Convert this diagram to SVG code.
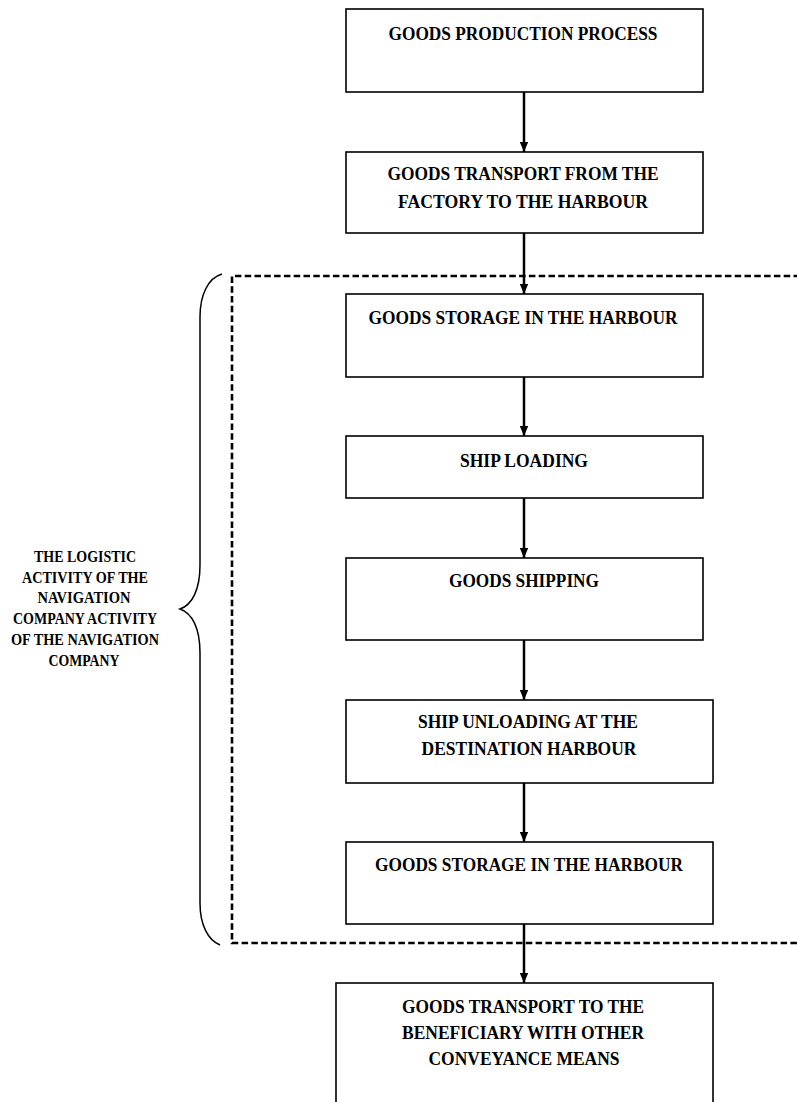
<svg xmlns="http://www.w3.org/2000/svg" width="797" height="1102" viewBox="0 0 797 1102">
<defs>
<style>
.box{fill:#fff;stroke:#000;stroke-width:1.6}
.t{font-family:"Liberation Serif","Times New Roman",serif;font-weight:bold;font-size:18px;fill:#000;text-anchor:middle}
.lbl{font-family:"Liberation Serif","Times New Roman",serif;font-weight:bold;font-size:16px;fill:#000;text-anchor:middle}
.conn{stroke:#000;stroke-width:2.5;fill:none}
</style>
<marker id="ah" viewBox="0 0 10 10" refX="10" refY="5" markerWidth="4" markerHeight="3.4" markerUnits="strokeWidth" orient="auto" preserveAspectRatio="none">
<path d="M0,0 L10,5 L0,10 Z" fill="#000"/>
</marker>
</defs>
<rect width="797" height="1102" fill="#fff"/>

<g id="group-region">
<path d="M800,276 L232,276 L232,943 L800,943" fill="none" stroke="#000" stroke-width="2.6" stroke-dasharray="6.5 3.3"/>
<path d="M222,274 C208,278 200,295 200,317 L200,565 C200,590 192,605 180,609 C192,613 200,628 200,653 L200,903 C200,925 208,940 220,945" fill="none" stroke="#000" stroke-width="1.5"/>
</g>

<g id="label">
<text class="lbl" x="85" y="562" textLength="102" lengthAdjust="spacingAndGlyphs">THE LOGISTIC</text>
<text class="lbl" x="85" y="583" textLength="126" lengthAdjust="spacingAndGlyphs">ACTIVITY OF THE</text>
<text class="lbl" x="84" y="603" textLength="93" lengthAdjust="spacingAndGlyphs">NAVIGATION</text>
<text class="lbl" x="85" y="624" textLength="144" lengthAdjust="spacingAndGlyphs">COMPANY ACTIVITY</text>
<text class="lbl" x="85" y="645" textLength="148" lengthAdjust="spacingAndGlyphs">OF THE NAVIGATION</text>
<text class="lbl" x="84" y="666" textLength="71" lengthAdjust="spacingAndGlyphs">COMPANY</text>
</g>

<g id="connectors">
<line class="conn" x1="524" y1="92" x2="524" y2="152" marker-end="url(#ah)"/>
<line class="conn" x1="524" y1="233" x2="524" y2="294" marker-end="url(#ah)"/>
<line class="conn" x1="524" y1="377" x2="524" y2="436" marker-end="url(#ah)"/>
<line class="conn" x1="524" y1="498" x2="524" y2="558" marker-end="url(#ah)"/>
<line class="conn" x1="524" y1="640" x2="524" y2="700" marker-end="url(#ah)"/>
<line class="conn" x1="524" y1="783" x2="524" y2="842" marker-end="url(#ah)"/>
<line class="conn" x1="524" y1="924" x2="524" y2="983" marker-end="url(#ah)"/>
</g>

<g id="n1">
<rect class="box" x="346" y="9" width="357" height="83"/>
<text class="t" x="523" y="40" textLength="269" lengthAdjust="spacingAndGlyphs">GOODS PRODUCTION PROCESS</text>
</g>
<g id="n2">
<rect class="box" x="346" y="152" width="357" height="81"/>
<text class="t" x="523" y="180" textLength="271" lengthAdjust="spacingAndGlyphs">GOODS TRANSPORT FROM THE</text>
<text class="t" x="523" y="208" textLength="250" lengthAdjust="spacingAndGlyphs">FACTORY TO THE HARBOUR</text>
</g>
<g id="n3">
<rect class="box" x="346" y="294" width="357" height="83"/>
<text class="t" x="523" y="324" textLength="309" lengthAdjust="spacingAndGlyphs">GOODS STORAGE IN THE HARBOUR</text>
</g>
<g id="n4">
<rect class="box" x="346" y="436" width="357" height="62"/>
<text class="t" x="524" y="467" textLength="128" lengthAdjust="spacingAndGlyphs">SHIP LOADING</text>
</g>
<g id="n5">
<rect class="box" x="346" y="558" width="357" height="82"/>
<text class="t" x="524" y="587" textLength="150" lengthAdjust="spacingAndGlyphs">GOODS SHIPPING</text>
</g>
<g id="n6">
<rect class="box" x="346" y="700" width="367" height="83"/>
<text class="t" x="528" y="728" textLength="220" lengthAdjust="spacingAndGlyphs">SHIP UNLOADING AT THE</text>
<text class="t" x="529" y="755" textLength="215" lengthAdjust="spacingAndGlyphs">DESTINATION HARBOUR</text>
</g>
<g id="n7">
<rect class="box" x="346" y="842" width="367" height="82"/>
<text class="t" x="529" y="871" textLength="308" lengthAdjust="spacingAndGlyphs">GOODS STORAGE IN THE HARBOUR</text>
</g>
<g id="n8">
<rect class="box" x="336" y="983" width="377" height="130"/>
<text class="t" x="523" y="1013" textLength="242" lengthAdjust="spacingAndGlyphs">GOODS TRANSPORT TO THE</text>
<text class="t" x="523" y="1039" textLength="242" lengthAdjust="spacingAndGlyphs">BENEFICIARY WITH OTHER</text>
<text class="t" x="524" y="1065" textLength="191" lengthAdjust="spacingAndGlyphs">CONVEYANCE MEANS</text>
</g>
</svg>
